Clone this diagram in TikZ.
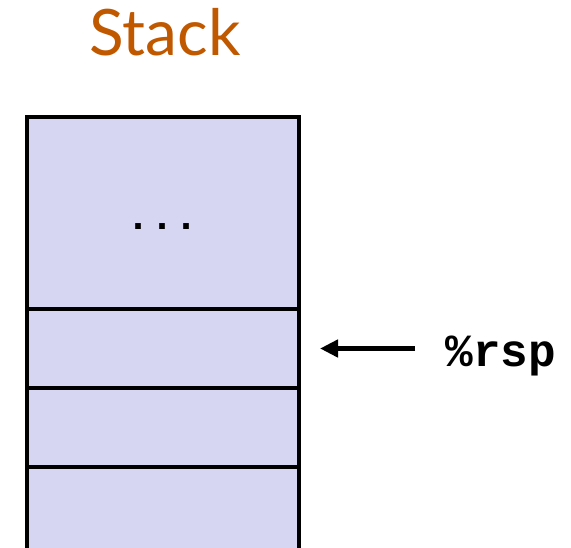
\documentclass[tikz,border=0pt]{standalone}
\usepackage{fontspec}
\setmainfont{Lato}
\newfontfamily\codefont{Liberation Mono}
\usetikzlibrary{arrows.meta, positioning}
\definecolor{stack-orange}{RGB}{192, 88, 0}
\definecolor{stack-fill}{RGB}{214, 214, 242}

\begin{document}
\begin{tikzpicture}[x=1pt, y=1pt,
        cell/.style={rectangle, draw=black, line width=4pt, fill=stack-fill,
                     minimum width=272pt, outer sep=0pt, inner sep=0pt},
        code/.style={font=\codefont\bfseries\fontsize{46}{46}\selectfont},
        ptr/.style={-{Triangle[length=18pt, width=17pt]}, line width=5pt}
      ]
        \path[use as bounding box, clip] (0,0) rectangle (571,-547);
        \node[font=\fontsize{64}{64}\selectfont, text=stack-orange,
              anchor=base] (title) at (165,-55) {Stack};
        \node[cell, minimum height=192pt] (top) at (163,-213) {};
        \node[cell, minimum height=79pt, below=0pt of top] (rspcell) {};
        \node[cell, minimum height=79pt, below=0pt of rspcell] (mid) {};
        \node[cell, minimum height=100pt, below=0pt of mid] (bot) {};
        \node[code, font=\codefont\bfseries\fontsize{40}{40}\selectfont,
              anchor=base] (dots) at (163,-229) {...};
        \node[code, anchor=base west] (rsp) at (442,-366) {\%rsp};
        \coordinate[right=116pt of rspcell.east] (tail);
        \draw[ptr] (tail) -- ([xshift=21pt]rspcell.east);
      \end{tikzpicture}
\end{document}
